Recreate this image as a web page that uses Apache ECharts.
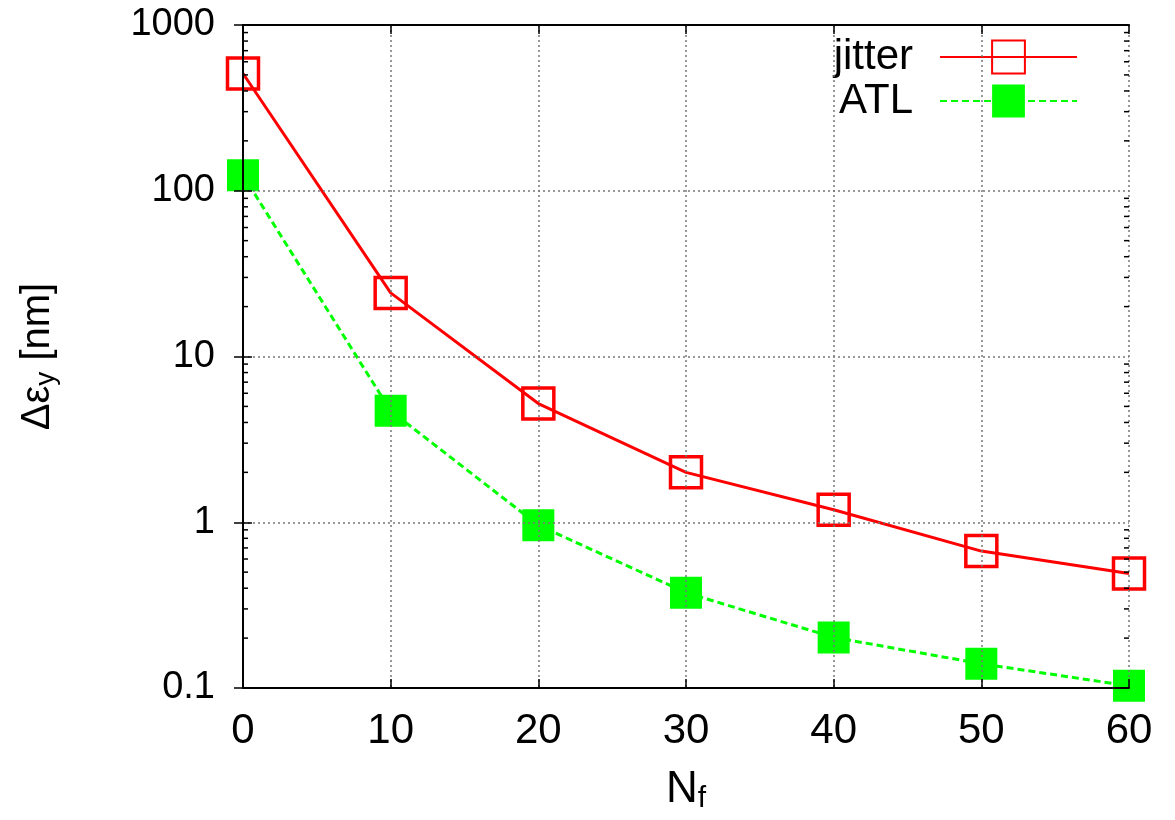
<!DOCTYPE html>
<html>
<head>
<meta charset="utf-8">
<script src="https://cdn.jsdelivr.net/npm/echarts@6/dist/echarts.min.js"></script>
<style>html,body{margin:0;padding:0;background:#fff;}#c{width:1175px;height:820px;}</style>
</head>
<body>
<div id="c"></div>
<script>
var nf = [0, 10, 20, 30, 40, 50, 60];
var jitter = [510, 24.2, 5.2, 2.0, 1.19, 0.67, 0.49];
var atl = [124, 4.7, 0.96, 0.376, 0.202, 0.14, 0.103];
var xTicks = [0, 10, 20, 30, 40, 50, 60];
var yTickLabels = {'0.1': '0.1', '1': '1', '10': '10', '100': '100', '1000': '1000'};
var minorMult = [2, 3, 4, 5, 6, 7, 8, 9];
var minorDecades = [0.1, 1, 10, 100];

var minorVals = [];
minorDecades.forEach(function (d) { minorMult.forEach(function (m) { minorVals.push([m * d]); }); });

var FONT = '"Liberation Sans", Arial, Helvetica, sans-serif';
var chart = echarts.init(document.getElementById('c'), null, {renderer: 'canvas'});

function pairs(ys) { return nf.map(function (x, i) { return [x, ys[i]]; }); }
function yFmt(v) {
  var r = Math.round(v * 1000) / 1000;
  var k = String(r);
  return yTickLabels[k] !== undefined ? yTickLabels[k] : k;
}

var commonX = {
  type: 'value', min: 0, max: 60, interval: 10,
  axisLine: {show: true, lineStyle: {color: '#000', width: 2}},
  axisTick: {show: true, inside: true, length: 9, lineStyle: {color: '#000', width: 1.5}},
  splitLine: {show: false}
};
var commonY = {
  type: 'log', logBase: 10, min: 0.1, max: 1000,
  axisLine: {show: true, lineStyle: {color: '#000', width: 2}},
  axisTick: {show: true, inside: true, length: 9, lineStyle: {color: '#000', width: 1.5}},
  minorTick: {show: false},
  splitLine: {show: false}
};

chart.setOption({
  animation: false,
  textStyle: {fontFamily: FONT},
  grid: {left: 243, right: 46, top: 25, bottom: 132, show: false},
  legend: {
    show: true,
    right: 92, top: 31,
    orient: 'vertical',
    align: 'right',
    itemWidth: 137, itemHeight: 41, itemGap: 2,
    textStyle: {fontFamily: FONT, fontSize: 42, color: '#000', padding: [0, 22, 0, 0]},
    data: ['jitter', 'ATL']
  },
  xAxis: [
    Object.assign({}, commonX, {
      position: 'bottom', z: 5,
      splitLine: {show: true, lineStyle: {color: '#777', width: 1.5, type: [2, 3]}},
      axisLabel: {show: true, fontSize: 42, color: '#000', margin: 22, fontFamily: FONT},
      name: '{n|N}{s|f}', nameLocation: 'middle', nameGap: 78,
      nameTextStyle: {rich: {n: {fontSize: 44, color: '#000', fontFamily: FONT}, s: {fontSize: 30, color: '#000', fontFamily: FONT, verticalAlign: 'bottom', padding: [18, 0, 0, 0]}}}
    }),
    Object.assign({}, commonX, {position: 'top', z: 5, axisLabel: {show: false}})
  ],
  yAxis: [
    Object.assign({}, commonY, {
      position: 'left', z: 5,
      splitLine: {show: true, lineStyle: {color: '#777', width: 1.5, type: [2, 3]}},
      axisLabel: {show: true, fontSize: 38, color: '#000', margin: 28, fontFamily: FONT, formatter: yFmt},
      name: '{a|Δε}{s|y}{a| [nm]}', nameLocation: 'middle', nameGap: 183, nameRotate: 90,
      nameTextStyle: {rich: {a: {fontSize: 40, color: '#000', fontFamily: FONT}, s: {fontSize: 28, color: '#000', fontFamily: FONT, padding: [16, 0, 0, 0]}}}
    }),
    Object.assign({}, commonY, {position: 'right', z: 5, axisLabel: {show: false}})
  ],
  series: [
    {
      name: 'jitter', type: 'line', data: pairs(jitter), xAxisIndex: 0, yAxisIndex: 0,
      symbol: 'rect', symbolSize: 31, clip: false, z: 3,
      lineStyle: {color: '#ff0000', width: 3},
      itemStyle: {color: 'rgba(255,255,255,0)', borderColor: '#ff0000', borderWidth: 3.5},
      emphasis: {disabled: true}
    },
    {
      name: 'ATL', type: 'line', data: pairs(atl), xAxisIndex: 0, yAxisIndex: 0,
      symbol: 'rect', symbolSize: 32, clip: false, z: 2,
      lineStyle: {color: '#00ff00', width: 3, type: [7, 4]},
      itemStyle: {color: '#00ff00', borderWidth: 0},
      emphasis: {disabled: true}
    },
    {
      name: 'minorTicks', type: 'custom', xAxisIndex: 0, yAxisIndex: 0,
      data: minorVals, silent: true, z: 6, clip: false,
      encode: {y: 0},
      renderItem: function (params, api) {
        var v = api.value(0);
        var pl = api.coord([0, v]);
        var pr = api.coord([60, v]);
        return {
          type: 'group',
          children: [
            {type: 'line', shape: {x1: pl[0], y1: pl[1], x2: pl[0] + 5, y2: pl[1]}, style: {stroke: '#000', lineWidth: 1.5}},
            {type: 'line', shape: {x1: pr[0], y1: pr[1], x2: pr[0] - 5, y2: pr[1]}, style: {stroke: '#000', lineWidth: 1.5}}
          ]
        };
      }
    }
  ]
});
</script>
</body>
</html>
